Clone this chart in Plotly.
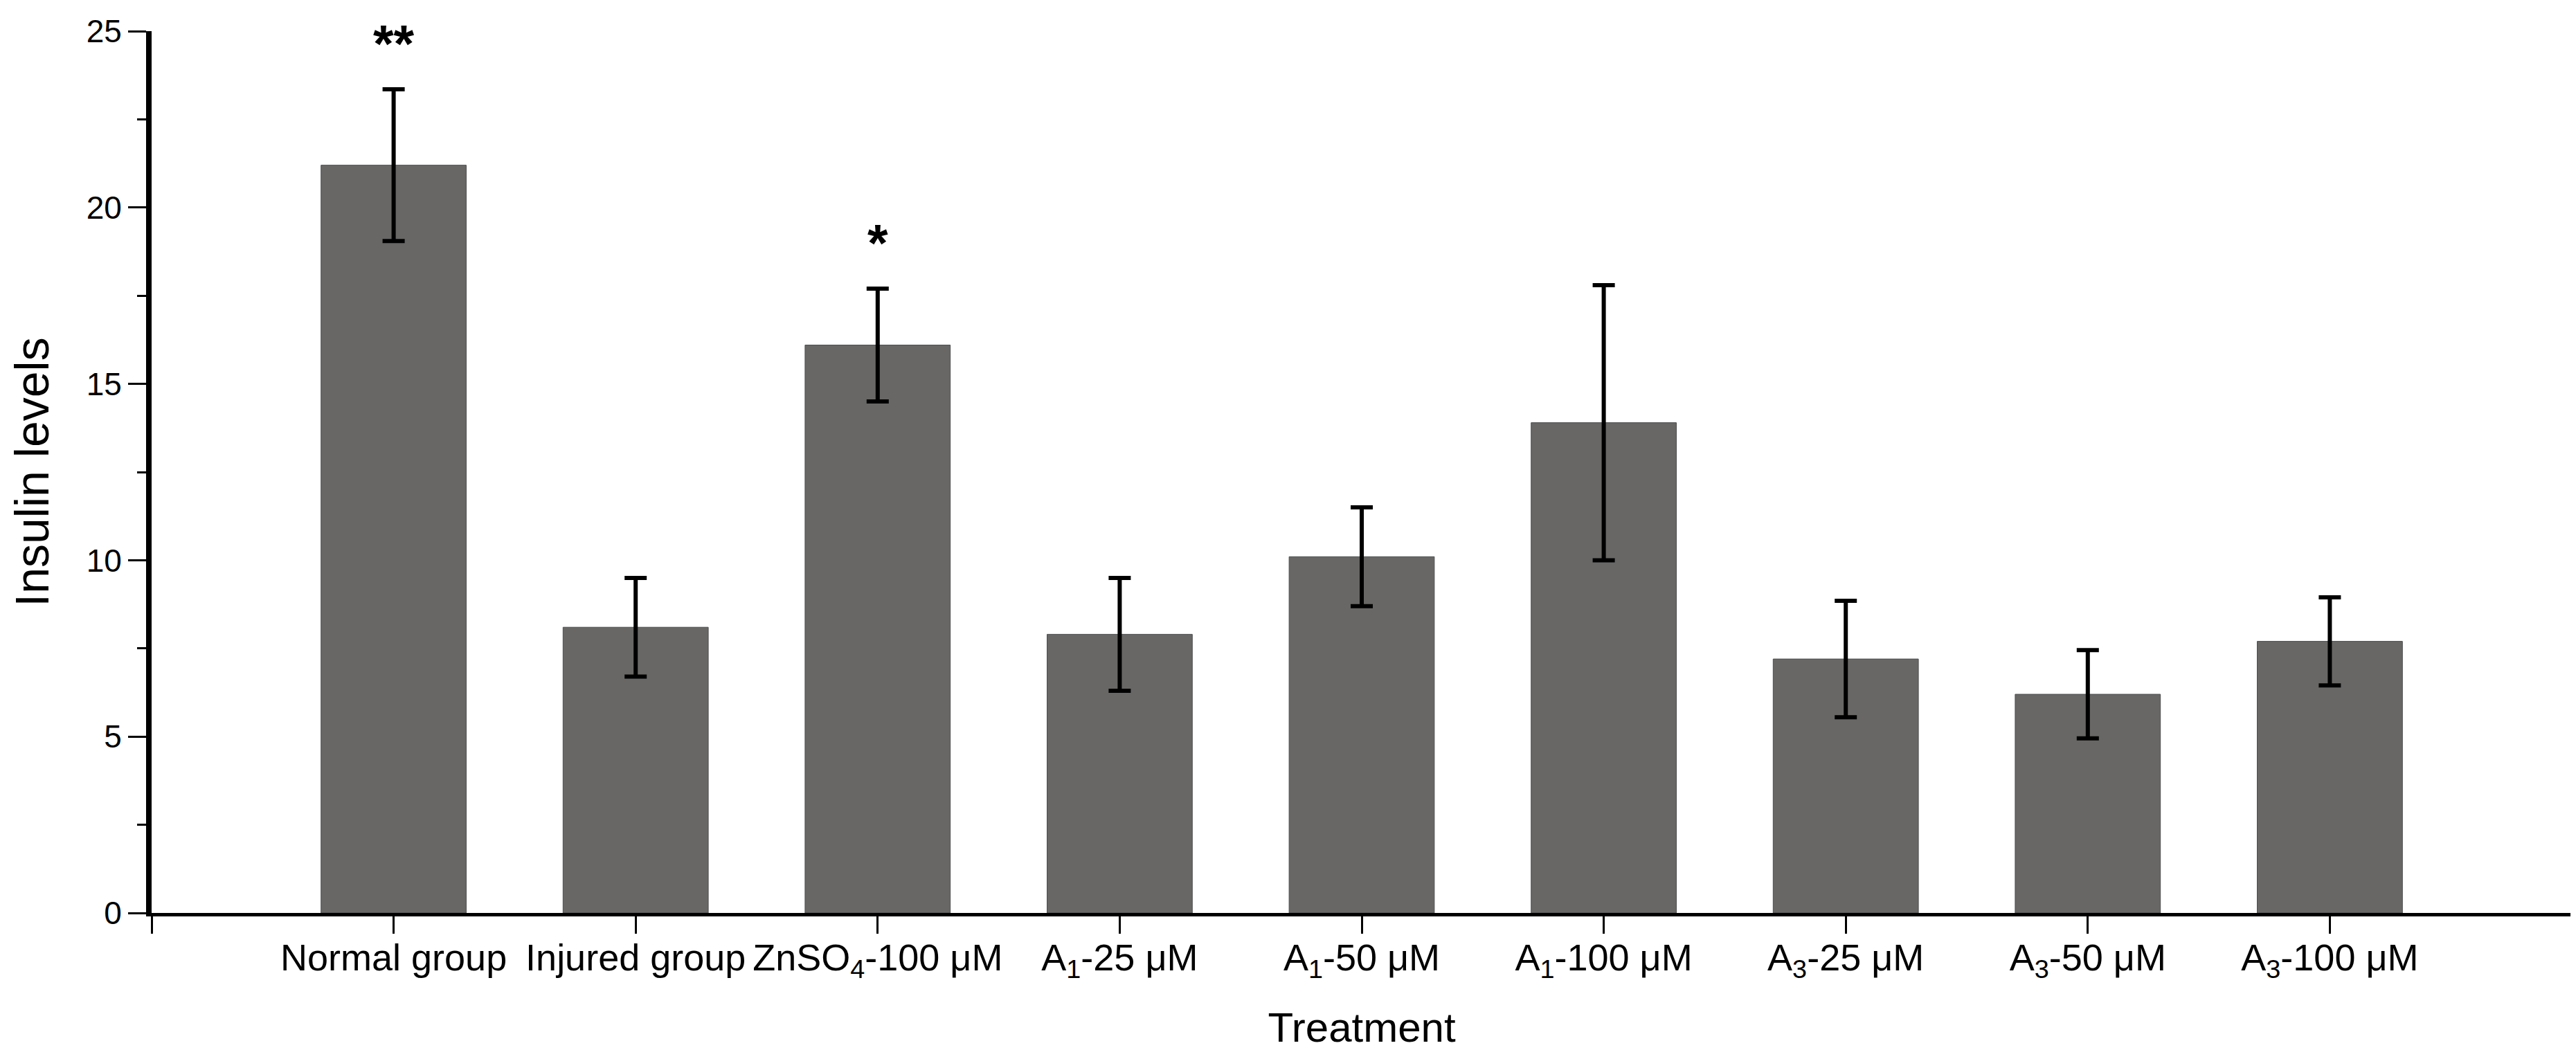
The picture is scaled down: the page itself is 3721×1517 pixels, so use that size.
#!/usr/bin/env python3

import plotly.graph_objects as go

categories = ["Normal group", "Injured group", "ZnSO<sub>4</sub>-100 μM",
              "A<sub>1</sub>-25 μM", "A<sub>1</sub>-50 μM", "A<sub>1</sub>-100 μM",
              "A<sub>3</sub>-25 μM", "A<sub>3</sub>-50 μM", "A<sub>3</sub>-100 μM"]
insulin = [21.2, 8.1, 16.1, 7.9, 10.1, 13.9, 7.2, 6.2, 7.7]
sd = [2.15, 1.4, 1.6, 1.6, 1.4, 3.9, 1.65, 1.25, 1.25]
stars = ["**", "", "*", "", "", "", "", "", ""]

pos = list(range(len(categories)))
font = "Arial, Liberation Sans, sans-serif"

fig = go.Figure(go.Bar(
        x=pos,
        y=insulin,
        width=0.6,
        marker=dict(color='#686766', line=dict(color='#4d4d4d', width=1)),
        error_y=dict(type='data', array=sd, visible=True,
                     color='black', thickness=6, width=16),
        showlegend=False
))

for p, v, e, s in zip(pos, insulin, sd, stars):
    if s:
        fig.add_annotation(x=p, y=v + e + 1.3, text='<b>' + s + '</b>',
                           showarrow=False, yanchor='middle',
                           font=dict(family=font, size=76, color='black'))

fig.update_layout(
        width=3721,
        height=1517,
        plot_bgcolor='white',
        paper_bgcolor='white',
        margin=dict(l=211, r=14, t=37, b=206),
        font=dict(family=font, color='black'),
        bargap=0.4
)

fig.update_xaxes(
        range=[-1, len(categories)],
        tickmode='array',
        tickvals=[-1] + pos + [len(categories)],
        ticktext=[''] + categories + [''],
        tickfont=dict(size=54),
        ticklabelstandoff=-12,
        ticks='outside', ticklen=25, tickwidth=3, tickcolor='black',
        showline=True, linewidth=5, linecolor='black',
        showgrid=False, zeroline=False,
        title=dict(text='Treatment', font=dict(size=60), standoff=44)
)

fig.update_yaxes(
        range=[0, 25],
        tick0=0, dtick=5,
        tickfont=dict(size=46),
        ticks='outside', ticklen=26, tickwidth=3, tickcolor='black',
        minor=dict(dtick=2.5, ticks='outside', ticklen=13, tickwidth=3,
                   tickcolor='black', showgrid=False),
        showline=True, linewidth=8, linecolor='black',
        showgrid=False, zeroline=False,
        title=dict(text='Insulin levels', font=dict(size=68), standoff=40)
)

fig.write_html("out.html")
